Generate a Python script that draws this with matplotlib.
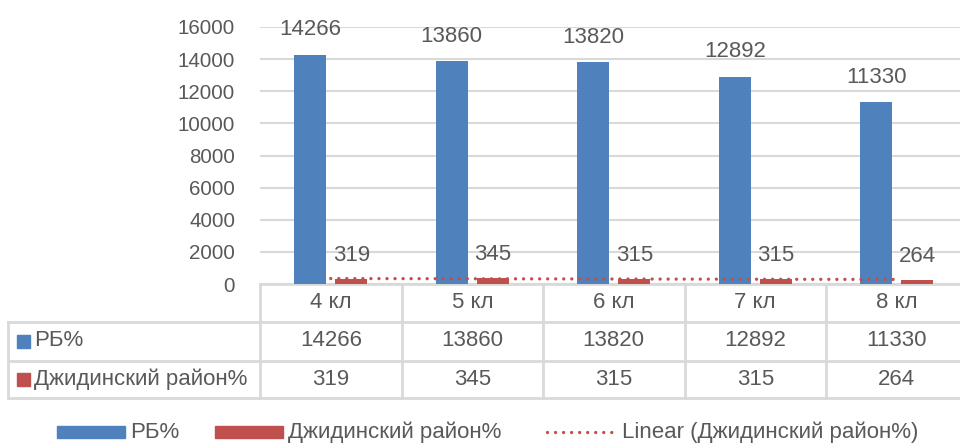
import matplotlib
matplotlib.use("Agg")
import matplotlib.pyplot as plt
from matplotlib.patches import Rectangle
import numpy as np

plt.rcParams['font.family'] = ['Liberation Sans', 'DejaVu Sans']

categories = ["4 кл", "5 кл", "6 кл", "7 кл", "8 кл"]
series_names = ["РБ%", "Джидинский район%"]
rb_values = [14266, 13860, 13820, 12892, 11330]
dzhida_values = [319, 345, 315, 315, 264]
trend_name = "Linear (Джидинский район%)"

BLUE = "#4f81bd"
RED = "#c0504d"
GRID = "#d9d9d9"
TEXT = "#595959"
FS_TICK = 14.8
FS = 16

W, H = 960, 445
fig = plt.figure(figsize=(W / 100, H / 100), dpi=100)

# plot area in pixels
left_px, zero_px, top_px, cat_w = 260, 284, 27, 141.5
ax = fig.add_axes([left_px / W, (H - zero_px) / H, 5 * cat_w / W, (zero_px - top_px) / H])

x = np.arange(len(categories))
bw, off = 0.226, 0.145
ax.bar(x - off, rb_values, bw, color=BLUE, zorder=3)
ax.bar(x + off, dzhida_values, bw, color=RED, zorder=3)

dots = dict(color=RED, lw=2.4, linestyle=(0, (0.01, 2.4)), dash_capstyle='round')

# linear trend of the second series
k, b = np.polyfit(x, dzhida_values, 1)
ax.plot(x, k * x + b, zorder=4, **dots)

for xi, v in zip(x - off, rb_values):
    ax.annotate(str(v), (xi, v), xytext=(0, 18), textcoords='offset points',
                ha='center', va='center', fontsize=FS, color=TEXT)
for xi, v in zip(x + off, dzhida_values):
    ax.annotate(str(v), (xi, v), xytext=(0, 17), textcoords='offset points',
                ha='center', va='center', fontsize=FS, color=TEXT)

ax.set_xlim(-0.5, len(categories) - 0.5)
ax.set_ylim(0, 16000)
ax.set_yticks(range(0, 16001, 2000))
ax.tick_params(axis='y', length=0, pad=18, labelsize=FS_TICK, labelcolor=TEXT)
ax.set_xticks([])
ax.grid(axis='y', color=GRID, lw=1.5, zorder=0)
for s in ax.spines.values():
    s.set_visible(False)

# overlay in pixel coords for data table and legend
ov = fig.add_axes([0, 0, 1, 1], zorder=-1)
ov.set_xlim(0, W)
ov.set_ylim(H, 0)
ov.axis('off')

rows = [284, 321.5, 360.5, 398]
right_px = left_px + 5 * cat_w
tl = dict(color=GRID, lw=2)
ov.plot([left_px, right_px], [rows[0], rows[0]], **tl)
for y in rows[1:]:
    ov.plot([8, right_px], [y, y], **tl)
ov.plot([8, 8], [rows[1], rows[3]], **tl)
for i in range(6):
    xv = left_px + i * cat_w
    ov.plot([xv, xv], [rows[0], rows[3]], **tl)

for i, c in enumerate(categories):
    cx = left_px + (i + 0.5) * cat_w
    ov.text(cx, (rows[0] + rows[1]) / 2, c, ha='center', va='center', fontsize=FS, color=TEXT)
    ov.text(cx, (rows[1] + rows[2]) / 2, str(rb_values[i]), ha='center', va='center', fontsize=FS, color=TEXT)
    ov.text(cx, (rows[2] + rows[3]) / 2, str(dzhida_values[i]), ha='center', va='center', fontsize=FS, color=TEXT)

for r, (name, col) in enumerate(zip(series_names, [BLUE, RED])):
    yc = (rows[r + 1] + rows[r + 2]) / 2
    ov.add_patch(Rectangle((17, yc - 6.5), 13, 13, color=col))
    ov.text(34, yc, name, ha='left', va='center', fontsize=FS, color=TEXT)

# legend
ly = 432
ov.add_patch(Rectangle((57, ly - 6), 68, 12, color=BLUE))
ov.text(130, ly, series_names[0], ha='left', va='center', fontsize=FS, color=TEXT)
ov.add_patch(Rectangle((215, ly - 6), 68, 12, color=RED))
ov.text(288, ly, series_names[1], ha='left', va='center', fontsize=FS, color=TEXT)
ov.plot([547, 613], [ly, ly], **dots)
ov.text(622, ly, trend_name, ha='left', va='center', fontsize=FS, color=TEXT)

fig.savefig("out.png", dpi=100)
